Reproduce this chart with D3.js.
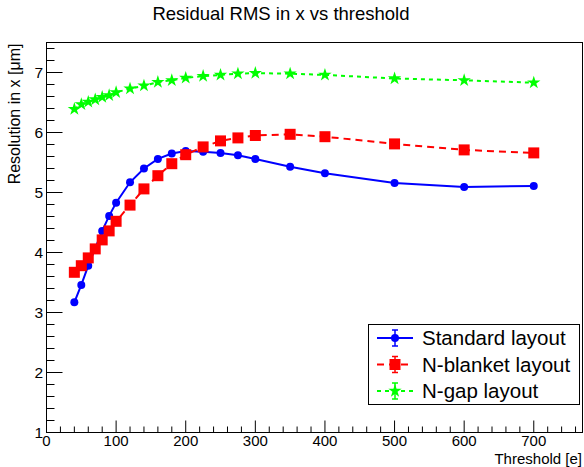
<!DOCTYPE html>
<html>
<head>
<meta charset="utf-8">
<script src="https://cdn.jsdelivr.net/npm/d3@7"></script>
<style>
  body { margin: 0; background: #fff; }
  svg { font-family: "Liberation Sans", Arial, sans-serif; }
</style>
</head>
<body>
<div id="chart"></div>
<script>
// thresholds [e]
var thresholds = [40, 50, 60, 70, 80, 90, 100, 120, 140, 160, 180, 200, 225, 250, 275, 300, 350, 400, 500, 600, 700];

// residual RMS [um] per layout
var standardValues = [3.17, 3.46, 3.78, 4.07, 4.36, 4.61, 4.83, 5.17, 5.40, 5.56, 5.65, 5.69, 5.68, 5.66, 5.62, 5.56, 5.43, 5.32, 5.16, 5.09, 5.11];
var blanketValues  = [3.67, 3.78, 3.91, 4.06, 4.21, 4.36, 4.52, 4.79, 5.06, 5.28, 5.48, 5.63, 5.76, 5.86, 5.91, 5.95, 5.97, 5.93, 5.81, 5.71, 5.66];
var gapValues      = [6.39, 6.47, 6.51, 6.55, 6.59, 6.62, 6.67, 6.73, 6.78, 6.84, 6.87, 6.91, 6.94, 6.96, 6.98, 6.99, 6.98, 6.96, 6.90, 6.87, 6.83];

var seriesNames = ["Standard layout", "N-blanket layout", "N-gap layout"];
var xTicks = [0, 100, 200, 300, 400, 500, 600, 700];
var yTicks = [1, 2, 3, 4, 5, 6, 7];

var W = 584, H = 467;
var frame = {left: 46.5, right: 582.5, top: 42.5, bottom: 432.5};

var svg = d3.select("#chart").append("svg")
  .attr("width", W)
  .attr("height", H);

var x = d3.scaleLinear().domain([0, 770]).range([frame.left, frame.right]);
var y = d3.scaleLinear().domain([1, 7.5]).range([frame.bottom, frame.top]);

// title
svg.append("text")
  .attr("x", 281).attr("y", 20)
  .attr("text-anchor", "middle")
  .attr("font-size", 18.5)
  .text("Residual RMS in x vs threshold");

// x axis ticks (major every 100, minor every 20)
var g = svg.append("g");
d3.range(0, 771, 20).forEach(function(v) {
  var len = (v % 100 === 0) ? 12 : 6;
  g.append("line")
    .attr("x1", x(v)).attr("x2", x(v))
    .attr("y1", frame.bottom).attr("y2", frame.bottom - len)
    .attr("stroke", "#000").attr("stroke-width", 1);
});
g.selectAll(".xlab")
  .data(xTicks)
  .enter().append("text")
  .attr("class", "xlab")
  .attr("x", function(d) { return x(d); })
  .attr("y", 446)
  .attr("text-anchor", "middle")
  .attr("font-size", 15)
  .text(function(d) { return d; });

// y axis ticks (major every 1, minor every 0.2)
d3.range(1, 7.51, 0.2).forEach(function(v) {
  var major = Math.abs(v - Math.round(v)) < 1e-6;
  var len = major ? 16 : 8;
  g.append("line")
    .attr("x1", frame.left).attr("x2", frame.left + len)
    .attr("y1", y(v)).attr("y2", y(v))
    .attr("stroke", "#000").attr("stroke-width", 1);
});
g.selectAll(".ylab")
  .data(yTicks)
  .enter().append("text")
  .attr("class", "ylab")
  .attr("x", 43)
  .attr("y", function(d) { return y(d) + 5.5; })
  .attr("text-anchor", "end")
  .attr("font-size", 15.5)
  .text(function(d) { return d; });

// frame
svg.append("rect")
  .attr("x", frame.left).attr("y", frame.top)
  .attr("width", frame.right - frame.left)
  .attr("height", frame.bottom - frame.top)
  .attr("fill", "none").attr("stroke", "#000").attr("stroke-width", 1);

// axis titles
svg.append("text")
  .attr("x", 582).attr("y", 464)
  .attr("text-anchor", "end")
  .attr("font-size", 15)
  .text("Threshold [e]");
svg.append("text")
  .attr("transform", "translate(19.5," + (frame.top + 1) + ")rotate(-90)")
  .attr("text-anchor", "end")
  .attr("font-size", 16)
  .text("Resolution in x [\u03bcm]");

var series = [
  {name: seriesNames[0], values: standardValues, color: "#0000ff", dash: null,  symbol: d3.symbolCircle, size: 50},
  {name: seriesNames[1], values: blanketValues,  color: "#ff0000", dash: "7,5", symbol: d3.symbolSquare, size: 121},
  {name: seriesNames[2], values: gapValues,      color: "#00ff00", dash: "4,4", symbol: d3.symbolStar,   size: 55}
];

var line = d3.line()
  .x(function(d) { return x(d[0]); })
  .y(function(d) { return y(d[1]); });

series.forEach(function(s) {
  var pts = thresholds.map(function(t, i) { return [t, s.values[i]]; });
  svg.append("path")
    .datum(pts)
    .attr("d", line)
    .attr("fill", "none")
    .attr("stroke", s.color)
    .attr("stroke-width", 2)
    .attr("stroke-dasharray", s.dash);
  svg.selectAll(null)
    .data(pts)
    .enter().append("path")
    .attr("transform", function(d) { return "translate(" + x(d[0]) + "," + y(d[1]) + ")"; })
    .attr("d", d3.symbol().type(s.symbol).size(s.size))
    .attr("fill", s.color);
});

// legend
var leg = svg.append("g");
leg.append("rect")
  .attr("x", 368.5).attr("y", 324.5)
  .attr("width", 211).attr("height", 80)
  .attr("fill", "#fff").attr("stroke", "#000").attr("stroke-width", 1);

series.forEach(function(s, i) {
  var cy = 338 + i * 26.5;
  leg.append("line")
    .attr("x1", 377).attr("x2", 413)
    .attr("y1", cy).attr("y2", cy)
    .attr("stroke", s.color).attr("stroke-width", 2)
    .attr("stroke-dasharray", s.dash);
  // error bar glyph
  leg.append("line")
    .attr("x1", 395).attr("x2", 395)
    .attr("y1", cy - 8).attr("y2", cy + 8)
    .attr("stroke", s.color).attr("stroke-width", 1.5);
  [cy - 8, cy + 8].forEach(function(yy) {
    leg.append("line")
      .attr("x1", 392).attr("x2", 398)
      .attr("y1", yy).attr("y2", yy)
      .attr("stroke", s.color).attr("stroke-width", 1.5);
  });
  leg.append("path")
    .attr("transform", "translate(395," + cy + ")")
    .attr("d", d3.symbol().type(s.symbol).size(s.size))
    .attr("fill", s.color);
  leg.append("text")
    .attr("x", 422).attr("y", cy + 7)
    .attr("font-size", 20.5)
    .text(s.name);
});
</script>
</body>
</html>
